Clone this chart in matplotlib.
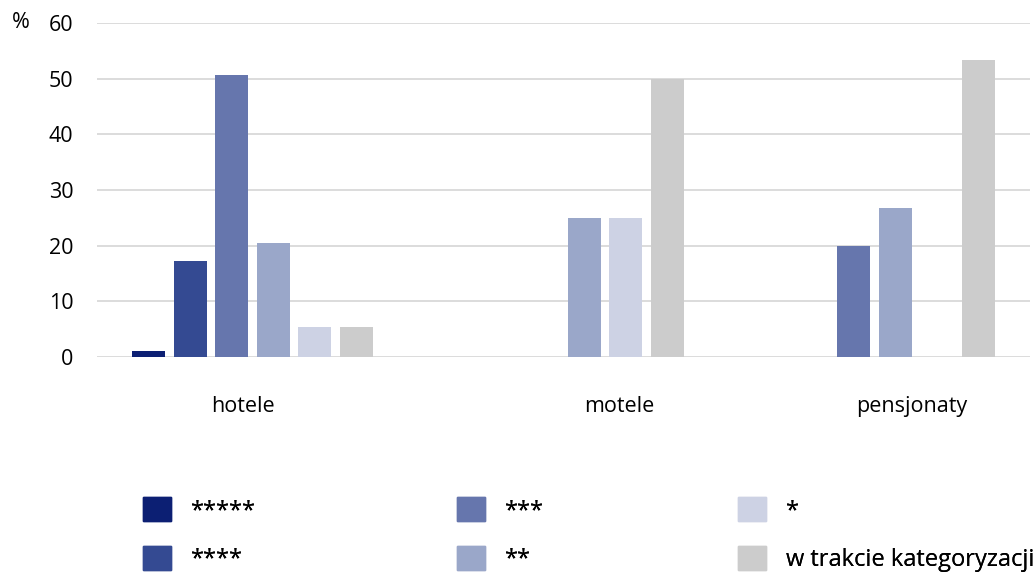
import matplotlib
matplotlib.use("Agg")
import matplotlib.pyplot as plt
from matplotlib import font_manager
import numpy as np

categories = ["hotele", "motele", "pensjonaty"]
series_names = ["*****", "****", "***", "**", "*", "w trakcie kategoryzacji"]
values = {
    "*****": [1.1, 0, 0],
    "****": [17.2, 0, 0],
    "***": [50.7, 0, 20.0],
    "**": [20.4, 25.0, 26.7],
    "*": [5.4, 25.0, 0],
    "w trakcie kategoryzacji": [5.4, 50.0, 53.3],
}
y_ticks = [0, 10, 20, 30, 40, 50, 60]

colors = ["#0c1f73", "#344a92", "#6676ad", "#9aa7c9", "#cdd2e4", "#cccccc"]
label_shift = [-0.03, 0.18, 0.12]
legend_cols_x = [143, 457, 738]

avail = {f.name for f in font_manager.fontManager.ttflist}
axis_font = "Open Sans" if "Open Sans" in avail else "DejaVu Sans"
legend_font = "Liberation Sans Narrow" if "Liberation Sans Narrow" in avail else axis_font

fig = plt.figure(figsize=(10.35, 5.8), dpi=100)
ax = fig.add_axes([97 / 1035, 1 - 357 / 580, (1030 - 97) / 1035, (357 - 23) / 580])

x = np.arange(len(categories))
pitch = 0.8 / len(series_names)
width = pitch * 0.8
handles = []
for i, name in enumerate(series_names):
    vals = np.array(values[name], dtype=float)
    offs = x + (i - (len(series_names) - 1) / 2) * pitch
    mask = vals > 0
    ax.bar(offs[mask], vals[mask], width=width, color=colors[i], zorder=3)
    handles.append(plt.Rectangle((0, 0), 1, 1, color=colors[i], label=name))

ax.set_xlim(-0.5, len(categories) - 0.5)
ax.set_ylim(0, 60)
ax.set_yticks(y_ticks)
ax.set_yticklabels([str(t) for t in y_ticks], fontsize=15.5, fontfamily=axis_font)
ax.set_xticks(x + np.array(label_shift))
ax.set_xticklabels(categories, fontsize=15.5, fontfamily=axis_font)
ax.tick_params(axis="both", length=0)
ax.tick_params(axis="y", pad=17)
ax.tick_params(axis="x", pad=28)
ax.grid(axis="y", color="#d9d9d9", linewidth=1.3, zorder=0)
for s in ax.spines.values():
    s.set_visible(False)

fig.text(12 / 1035, 1 - 23 / 580, "%", fontsize=15.5, fontfamily=axis_font, va="center", ha="left")

for c, cx in enumerate(legend_cols_x):
    leg = fig.legend(handles=handles[2 * c:2 * c + 2], ncol=1, loc="upper left",
                     bbox_to_anchor=(cx / 1035, 1 - 497 / 580),
                     frameon=False, prop={"family": legend_font, "size": 17},
                     handlelength=1.2, handleheight=1.2, handletextpad=0.85,
                     labelspacing=0.95, borderpad=0, borderaxespad=0)
    fig.add_artist(leg)

fig.savefig("out.png", dpi=100, facecolor="white")
